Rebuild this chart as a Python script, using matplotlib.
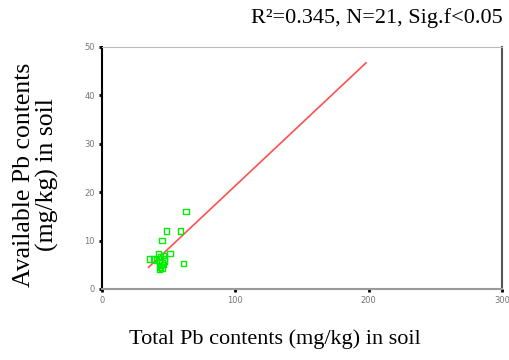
import numpy as np
import matplotlib.pyplot as plt

# total vs available Pb in soil samples (mg/kg)
total_pb = np.array([63, 48.5, 59, 45, 61, 51, 42.5, 35.5, 38.5, 41, 44,
                     46, 47, 43, 45, 46, 43, 44, 45, 43, 47])
avail_pb = np.array([16, 12, 12, 10, 5.2, 7.4, 7.4, 6.2, 6.2, 6.0, 6.6,
                     7.0, 6.2, 5.6, 5.5, 5.0, 4.8, 4.4, 4.2, 4.1, 5.8])

# fitted line endpoints
fit_x = np.array([35, 198])
fit_slope = 0.259
fit_intercept = -4.56

x_ticks = [0, 100, 200, 300]
y_ticks = [0, 10, 20, 30, 40, 50]

serif = 'Liberation Serif'

fig = plt.figure(figsize=(5.1, 3.6), dpi=100)
ax = fig.add_axes([102 / 510, 1 - 289 / 360, 400 / 510, 242 / 360])

ax.plot(fit_x, fit_slope * fit_x + fit_intercept, '-', color='#ff5050', linewidth=1.2)
ax.scatter(total_pb, avail_pb, marker='s', s=14, facecolors='none',
           edgecolors='#00ee00', linewidths=1.0, zorder=3)

ax.set_xlim(0, 300)
ax.set_ylim(0, 50)
ax.set_xticks(x_ticks)
ax.set_yticks(y_ticks)
ax.tick_params(labelsize=6, labelcolor='#777777', length=2, width=2, color='black', pad=3)

ax.spines['left'].set_color('black')
ax.spines['left'].set_linewidth(1.5)
ax.spines['bottom'].set_color('#999999')
ax.spines['bottom'].set_linewidth(1.5)
ax.spines['top'].set_color('#bbbbbb')
ax.spines['right'].set_color('#555555')
ax.spines['right'].set_linewidth(1.5)

fig.text(377 / 510, 1 - 18 / 360, 'R\u00b2=0.345, N=21, Sig.f<0.05', family=serif,
         fontsize=16, ha='center', va='center')
fig.text(275 / 510, 1 - 339 / 360, 'Total Pb contents (mg/kg) in soil', family=serif,
         fontsize=16, ha='center', va='center')
fig.text(36 / 510, 1 - 175 / 360, 'Available Pb contents\n(mg/kg) in soil', family=serif,
         fontsize=18.5, ha='center', va='center', rotation=90, linespacing=1.0)

plt.savefig('out.png', dpi=100)
